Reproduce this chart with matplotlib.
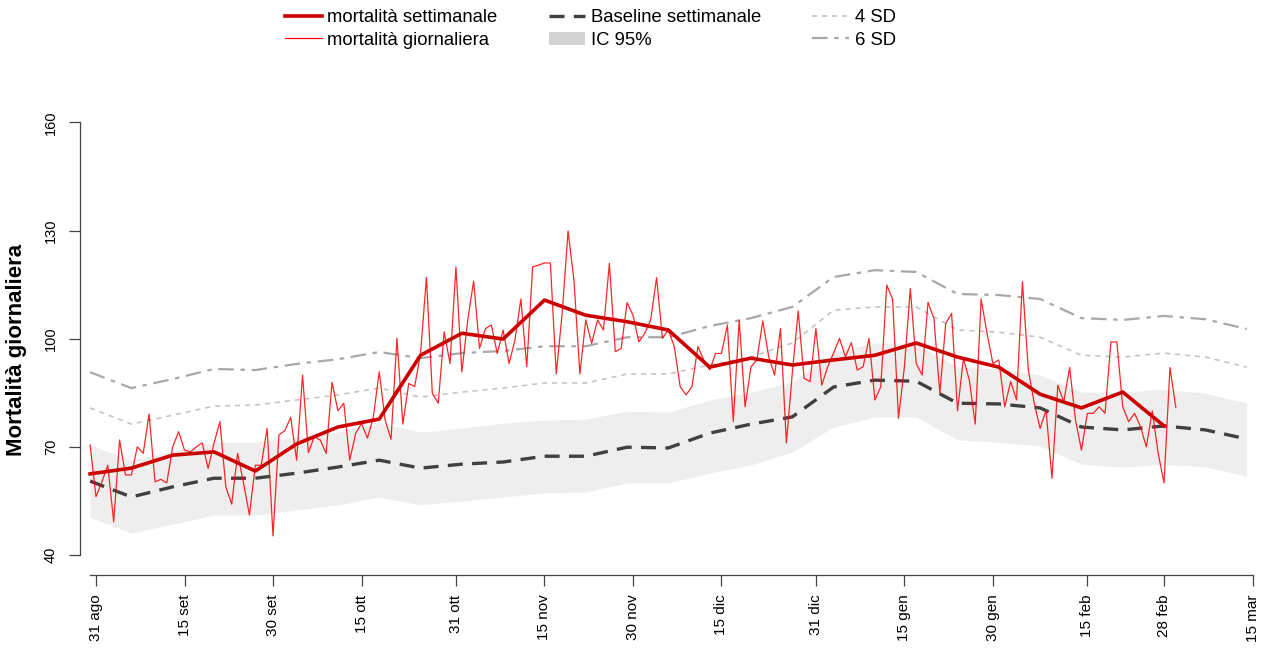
import matplotlib
matplotlib.use('Agg')
import matplotlib.pyplot as plt
import matplotlib.dates as mdates
import pandas as pd
from matplotlib.lines import Line2D
from matplotlib.patches import Patch

plt.rcParams['font.family'] = ['Liberation Sans', 'DejaVu Sans']

# --- data ---
daily_start = '2020-08-30'
weekly_start = '2020-08-30'

daily_values = [
    70.5, 56.2, 60.3, 64.9, 49.2, 71.9, 62.2, 62.2, 70.0, 68.2,
    79.1, 60.3, 61.0, 60.0, 70.0, 74.2, 69.1, 68.6, 70.0, 71.1,
    64.0, 71.0, 77.0, 58.9, 54.1, 68.2, 60.0, 51.1, 64.9, 64.9,
    75.1, 45.3, 73.3, 74.5, 78.2, 66.3, 89.9, 68.4, 72.8, 71.9,
    68.2, 87.9, 80.0, 82.1, 66.3, 73.7, 76.5, 72.4, 78.3, 90.8,
    77.4, 72.1, 100.1, 76.3, 87.6, 86.7, 95.9, 117.0, 84.8, 82.1,
    101.9, 93.1, 119.9, 90.8, 105.2, 116.0,
    97.3, 102.8, 103.8, 95.9, 102.4, 93.1, 99.6, 111.0, 92.2, 119.9,
    120.4, 121.0, 121.0, 90.2, 107.0, 129.9, 116.2, 90.2, 105.2, 98.7,
    105.2, 102.4, 120.9, 96.4, 97.3, 110.0, 106.5, 99.1, 101.5, 105.2,
    116.9, 100.1, 102.4, 97.8, 86.7, 84.4, 86.7, 97.8, 94.1, 91.3,
    95.9, 95.9, 103.8, 77.0, 105.2, 81.1, 92.2, 94.1, 104.9, 95.0,
    89.9, 102.8, 71.1, 90.4, 107.7, 89.0, 88.1, 102.8, 87.1,
    92.2, 96.0, 100.1, 95.0, 98.9, 91.3, 92.2, 100.1, 83.0, 86.7,
    114.9, 110.9, 77.9, 92.2, 113.9, 93.1, 89.9, 110.1, 105.6, 84.8,
    104.2, 107.0, 80.0, 94.5, 88.5, 76.3, 111.0, 101.5, 93.1, 94.1,
    81.1, 88.1, 83.0, 115.8, 91.3, 82.1, 75.1, 80.2, 61.3, 87.1,
    82.5, 92.0, 77.4, 69.1, 79.3, 79.3, 81.1, 79.3, 99.1, 99.1,
    81.1, 77.0, 79.3, 75.6, 70.0, 80.0, 68.2, 60.0, 92.0, 80.9,
]

weekly_obs = [62.5, 64.1, 67.7, 68.6, 63.3, 70.8, 75.5, 77.7, 95.4, 101.5,
              99.9, 110.7, 106.5, 104.7, 102.4, 92.1, 94.6, 92.7, 94.1, 95.4,
              98.8, 94.9, 92.1, 84.6, 80.8, 85.2, 75.8]

baseline = [60.5, 56.1, 58.9, 61.3, 61.3, 62.7, 64.4, 66.3, 64.1, 65.2,
            65.8, 67.4, 67.4, 69.9, 69.7, 73.8, 76.3, 78.3, 86.6, 88.5,
            88.2, 82.1, 81.9, 80.8, 75.5, 74.7, 75.8, 74.7, 72.2]

ic_high = [70.5, 66.3, 68.8, 71.3, 71.3, 72.7, 74.1, 76.6, 74.1, 75.2,
           76.6, 77.4, 77.7, 79.9, 79.6, 83.0, 85.2, 88.0, 96.3, 98.8,
           98.5, 92.1, 91.6, 89.9, 85.2, 85.2, 86.0, 84.9, 82.1]

ic_low = [50.5, 46.1, 48.6, 51.1, 51.1, 52.5, 53.9, 56.1, 53.9, 55.0,
          56.1, 57.2, 57.5, 60.0, 60.0, 62.7, 65.0, 68.6, 75.5, 78.3,
          78.3, 71.9, 71.3, 70.2, 65.2, 64.4, 65.2, 64.4, 61.9]

sd4 = [80.8, 76.3, 78.8, 81.3, 81.6, 83.0, 84.4, 86.3, 83.8, 85.2,
       86.3, 87.7, 87.7, 90.2, 90.2, 92.7, 94.9, 98.8, 107.9, 108.8,
       108.8, 102.4, 101.8, 100.4, 95.4, 94.9, 96.0, 94.9, 92.1]

sd6 = [90.7, 86.3, 88.8, 91.6, 91.3, 93.0, 94.3, 96.3, 94.6, 96.0,
       96.6, 97.9, 97.9, 100.4, 100.4, 103.5, 105.7, 108.8, 117.1, 119.0,
       118.5, 112.4, 112.1, 111.0, 105.7, 105.2, 106.3, 105.4, 102.7]

tick_dates = ['2020-08-31', '2020-09-15', '2020-09-30', '2020-10-15', '2020-10-31',
              '2020-11-15', '2020-11-30', '2020-12-15', '2020-12-31', '2021-01-15',
              '2021-01-30', '2021-02-15', '2021-02-28', '2021-03-15']
tick_labels = ['31 ago', '15 set', '30 set', '15 ott', '31 ott', '15 nov', '30 nov',
               '15 dic', '31 dic', '15 gen', '30 gen', '15 feb', '28 feb', '15 mar']
y_ticks = [40, 70, 100, 130, 160]

daily_x = pd.date_range(daily_start, periods=len(daily_values), freq='D')
base_x = pd.date_range(weekly_start, periods=len(baseline), freq='7D')
obs_x = base_x[:len(weekly_obs)]

fig = plt.figure(figsize=(12.62, 6.52), dpi=100)
ax = fig.add_axes([80 / 1262, 77 / 652, 1182 / 1262, 457 / 652])

ax.fill_between(base_x, ic_low, ic_high, color='#EEEEEE', lw=0, zorder=1)
ax.plot(base_x, sd4, color='#C4C4C4', lw=1.2, dashes=(3, 3), zorder=2)
ax.plot(base_x, sd6, color='#A8A8A8', lw=1.6, dashes=(7, 3, 2, 3), zorder=2)
ax.plot(base_x, baseline, color='#404040', lw=2.4, dashes=(4.5, 2.8), zorder=3)
ax.plot(daily_x, daily_values, color='#FF0000', lw=0.9, alpha=0.85, zorder=4)
ax.plot(obs_x, weekly_obs, color='#CC0000', lw=2.6, zorder=5)

x0 = mdates.date2num(pd.Timestamp('2020-08-31'))
ax.set_xlim(x0 - 2.71, x0 + 197.6)
ax.set_ylim(34.46, 161.2)

for s in ['top', 'right']:
    ax.spines[s].set_visible(False)
for s in ['left', 'bottom']:
    ax.spines[s].set_color('#444444')
    ax.spines[s].set_linewidth(0.9)
ax.spines['left'].set_bounds(40, 160)
ax.spines['bottom'].set_bounds(x0 - 1, x0 + 196)

ax.set_xticks(pd.to_datetime(tick_dates))
ax.set_xticklabels(tick_labels, rotation=90, fontsize=11)
ax.set_yticks(y_ticks)
ax.set_yticklabels([str(v) for v in y_ticks], rotation=90, va='center', fontsize=10.5)
ax.tick_params(axis='both', direction='out', length=8, width=0.9, color='#444444')
ax.tick_params(axis='x', pad=6)
ax.tick_params(axis='y', pad=8)

fig.text(17 / 1262, 1 - 350 / 652, 'Mortalità giornaliera', rotation=90,
         ha='center', va='center', fontsize=16, fontweight='bold')

handles = [
    Line2D([], [], color='#CC0000', lw=2.6),
    Line2D([], [], color='#FF0000', lw=0.9),
    Line2D([], [], color='#404040', lw=2.4, dashes=(4.5, 2.8)),
    Patch(facecolor='#D3D3D3', edgecolor='none'),
    Line2D([], [], color='#C4C4C4', lw=1.2, dashes=(3, 3)),
    Line2D([], [], color='#A8A8A8', lw=1.6, dashes=(7, 3, 2, 3)),
]
labels = ['mortalità settimanale', 'mortalità giornaliera', 'Baseline settimanale',
          'IC 95%', '4 SD', '6 SD']
fig.legend(handles, labels, ncol=3, loc='upper left',
           bbox_to_anchor=(285 / 1262, 1 - 9 / 652), frameon=False,
           fontsize=13.3, handlelength=2.0, handletextpad=0.3,
           columnspacing=2.75, labelspacing=0.31, borderpad=0, borderaxespad=0)

fig.savefig('out.png', dpi=100)
